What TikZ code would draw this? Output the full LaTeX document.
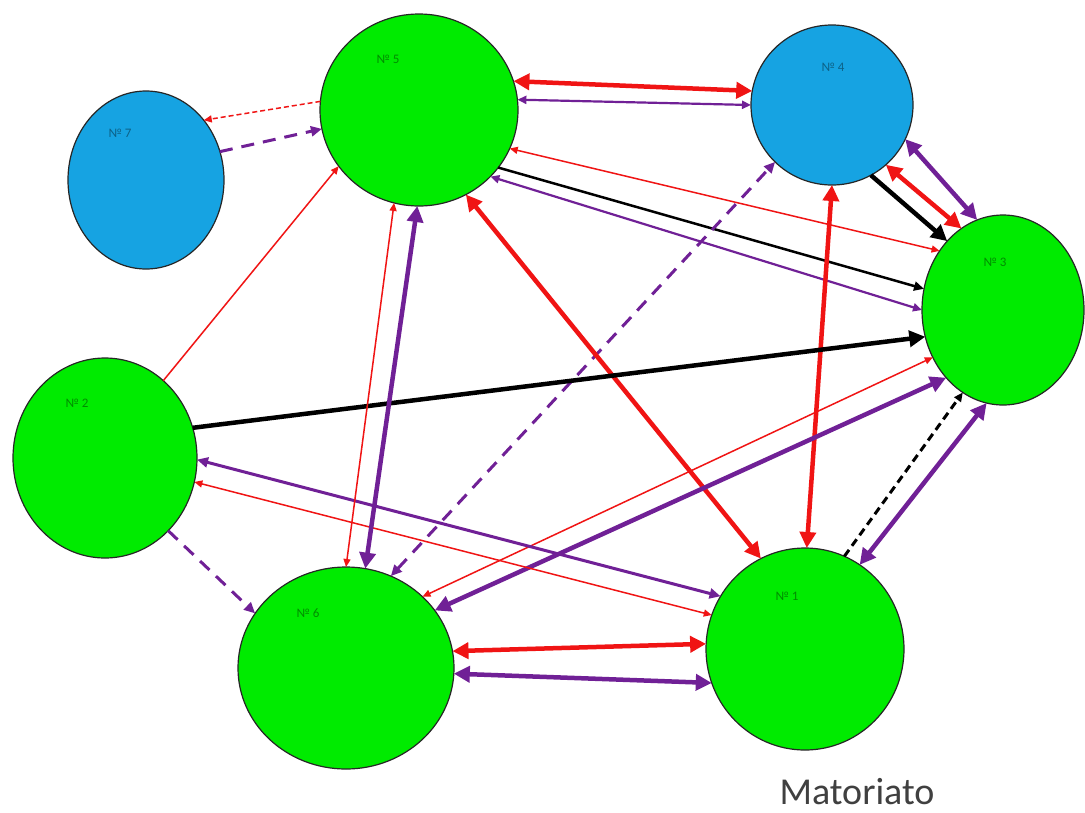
\documentclass[tikz,border=0pt]{standalone}
\usepackage{fontspec}
\setmainfont{Carlito}
\usetikzlibrary{arrows.meta,shapes.geometric}
\definecolor{ngreen}{RGB}{0,235,0}
\definecolor{nblue}{RGB}{22,163,226}
\definecolor{ared}{RGB}{240,20,20}
\definecolor{apurple}{RGB}{112,32,150}
\definecolor{tgrey}{RGB}{64,64,64}
\tikzset{
  bubble/.style={ellipse, draw=black!85, line width=1.2pt, inner sep=0pt, outer sep=0pt},
  gbub/.style={bubble, fill=ngreen},
  bbub/.style={bubble, fill=nblue},
  num/.style={font=\fontsize{13}{13}\selectfont, text=black, text opacity=0.4, inner sep=0pt},
  rthick/.style={draw=ared, line width=4.5pt, {Triangle[length=16pt,width=16pt]}-{Triangle[length=16pt,width=16pt]}},
  pthick/.style={draw=apurple, line width=4.5pt, {Triangle[length=16pt,width=16pt]}-{Triangle[length=16pt,width=16pt]}},
  rthin/.style={draw=ared, line width=1.5pt, {Triangle[length=8pt,width=7pt]}-{Triangle[length=8pt,width=7pt]}},
  rthinone/.style={draw=ared, line width=1.5pt, -{Triangle[length=8pt,width=7pt]}},
  pthin/.style={draw=apurple, line width=2.2pt, {Triangle[length=9pt,width=8pt]}-{Triangle[length=9pt,width=8pt]}},
  pmed/.style={draw=apurple, line width=3pt, {Triangle[length=11pt,width=10pt]}-{Triangle[length=11pt,width=10pt]}},
  bthick/.style={draw=black, line width=4.5pt, -{Triangle[length=16pt,width=16pt]}},
  bmed/.style={draw=black, line width=2.5pt, -{Triangle[length=10pt,width=9pt]}},
  rdash/.style={draw=ared, line width=1.5pt, dash pattern=on 5pt off 3pt, -{Triangle[length=8pt,width=7pt]}},
  pdash/.style={draw=apurple, line width=3pt, dash pattern=on 13pt off 9pt, -{Triangle[length=11pt,width=10pt]}},
  pdashb/.style={draw=apurple, line width=3pt, dash pattern=on 13pt off 9pt, {Triangle[length=11pt,width=10pt]}-{Triangle[length=11pt,width=10pt]}},
  bdash/.style={draw=black, line width=3pt, dash pattern=on 8pt off 5pt, -{Triangle[length=9pt,width=8pt]}},
}
\begin{document}
\begin{tikzpicture}[x=1pt,y=-1pt]
\useasboundingbox[fill=white] (0,0) rectangle (1085,812);
% nodes
\node[gbub, minimum width=198pt, minimum height=192pt] (n5) at (419,110) {};
\node[bbub, minimum width=162pt, minimum height=160pt] (n4) at (832,105) {};
\node[bbub, minimum width=156pt, minimum height=178pt] (n7) at (146,180) {};
\node[gbub, minimum width=162pt, minimum height=190pt] (n3) at (1003,310) {};
\node[gbub, minimum width=184pt, minimum height=200pt] (n2) at (105,458) {};
\node[gbub, minimum width=216pt, minimum height=202pt] (n6) at (346,668) {};
\node[gbub, minimum width=198pt, minimum height=202pt] (n1) at (805,649) {};
% labels
\node[num] (l5) at (388,59) {№ 5};
\node[num] (l4) at (833,67) {№ 4};
\node[num] (l7) at (120,133) {№ 7};
\node[num] (l3) at (995,262) {№ 3};
\node[num] (l2) at (77,403) {№ 2};
\node[num] (l6) at (308,613) {№ 6};
\node[num] (l1) at (787,596) {№ 1};
\node[font=\fontsize{38}{38}\selectfont, text=tgrey, anchor=base, inner sep=0pt] (title) at (857,804) {Matoriato};
% connectors
\draw[rthick] (n5.17) -- (n4.170);
\draw[pthin] (n5.6) -- (n4.180);
\draw[rdash] (n5.175) -- (n7.46);
\draw[pdash] (n7.21) -- (n5.-169);
\draw[rthinone] (n2.53) -- (n5.-145);
\draw[rthin] (n5.-23) -- (n3.137);
\draw[bmed] (n5.-36) -- (n3.165);
\draw[pthin] (n5.-43) -- (n3.180);
\draw[pdashb] (n6.64) -- (n4.-135);
\draw[bthick] (n4.-61) -- (n3.129);
\draw[rthick] (n4.-48) -- (n3.117);
\draw[pthick] (n4.-25) -- (n3.106);
\draw[rthick] (n4.-90) -- (n1.89);
\draw[rthick] (n5.-61) -- (n1.116);
\draw[bthick] (n2.19) -- (n3.-161);
\draw[rthin] (n6.43) -- (n3.-146);
\draw[pthick] (n6.33) -- (n3.-130);
\draw[bdash] (n1.67) -- (n3.-116);
\draw[pthick] (n1.57) -- (n3.-100);
\draw[pmed] (n2.-1) -- (n1.148);
\draw[rthin] (n2.-15) -- (n1.160);
\draw[rthin] (n5.-105) -- (n6.90);
\draw[pthick] (n5.-91) -- (n6.79);
\draw[pdash] (n2.-49) -- (n6.149);
\draw[rthick] (n6.9) -- (n1.177);
\draw[pthick] (n6.-3) -- (n1.-160);
\end{tikzpicture}
\end{document}
